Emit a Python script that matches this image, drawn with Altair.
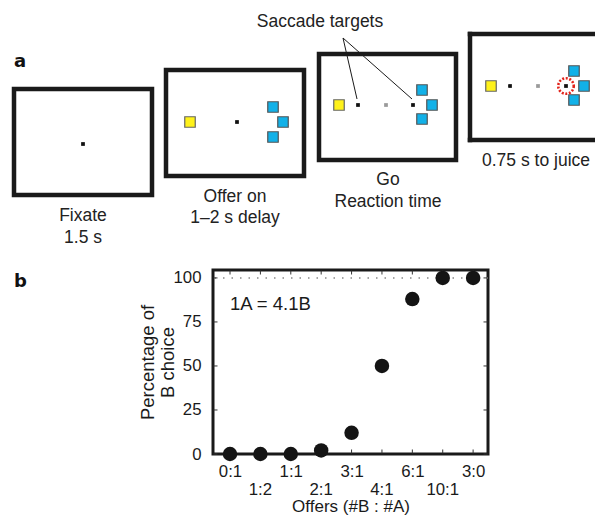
import altair as alt
import pandas as pd
import json

# ---------------- Panel b data ----------------
offers = ["0:1", "1:2", "1:1", "2:1", "3:1", "4:1", "6:1", "10:1", "3:0"]
pct_b = [0, 0, 0, 2, 12, 50, 88, 100, 100]
y_ticks = [0, 25, 50, 75, 100]

# ---------------- Panel a schematic (page-unit layout) ----------------
frame_x1 = [14, 166, 319]
frame_x2 = [152, 304, 456]
frame_y1 = [89, 70, 54]
frame_y2 = [195, 176, 160]
# last frame runs off the right edge: left, top and bottom sides only
edge_x1 = [470, 470, 470]
edge_x2 = [470, 640, 640]
edge_y1 = [34, 34, 140]
edge_y2 = [140, 34, 140]

fix_x = [83, 237, 358, 413, 510, 566]
fix_y = [144, 122, 105, 105, 86, 86]
gray_x = [386, 538]
gray_y = [105, 86]
yellow_x = [190, 339, 491]
yellow_y = [122, 105, 86]
blue_x = [273, 283, 273, 422, 432, 422, 574, 584, 574]
blue_y = [107, 122, 137, 90, 105, 119, 71, 86, 100]
ring_x = [566]
ring_y = [86]
pointer_x = [343, 343]
pointer_y = [38, 38]
pointer_x2 = [357, 412]
pointer_y2 = [99, 99]

caption_text = ["Saccade targets", "Fixate", "1.5 s", "Offer on", "1\u20132 s delay",
                "Go", "Reaction time", "0.75 s to juice"]
caption_x = [320, 83, 83, 235, 235, 388, 388, 536]
caption_y = [22, 216, 238, 197, 218, 180, 202, 161]
panel_text = ["a", "b"]
panel_x = [14, 14]
panel_y = [62, 282]

FONT = "Liberation Sans"
PAD_L, PAD_T = 205, 262
W, H = 275, 184
TOTAL_W, TOTAL_H = 587, 510

df = pd.DataFrame({"i": list(range(len(offers))), "offer": offers, "pct": pct_b})
df["row"] = df["i"] % 2
dft = pd.DataFrame({"v": y_ticks})

xs = alt.Scale(domain=[-0.56, 8.49], nice=False, zero=False)
ys = alt.Scale(domain=[0, 104.5], nice=False, zero=False)

labels_js = json.dumps(offers).replace('"', "'")
label_expr = f"datum.value % 2 == 0 ? {labels_js}[datum.value] : ''"

base = alt.Chart(df)
points = base.mark_circle(size=210, color="#141414", opacity=1).encode(
    x=alt.X("i:Q", scale=xs,
            axis=alt.Axis(values=list(range(len(offers))), labelExpr=label_expr,
                          title="Offers (#B : #A)", ticks=False, domain=False, grid=False,
                          labelPadding=9, titlePadding=19, titleFontSize=17,
                          labelFlush=False, labelOverlap=False)),
    y=alt.Y("pct:Q", scale=ys,
            axis=alt.Axis(values=y_ticks, title=["Percentage of", "B choice"],
                          ticks=False, domain=False, grid=False, labelPadding=12,
                          labelOverlap=False, titlePadding=-4, titleLineHeight=20,
                          titleFontSize=18.5)),
)

odd_labels = base.transform_filter("datum.row == 1").mark_text(
    fontSize=16.8, font=FONT, color="#1a1a1a", baseline="middle", align="center"
).encode(x=alt.X("i:Q", scale=xs), y=alt.value(H + 36), text="offer:N")

# small inward ticks on all four sides of the box
tick_style = dict(color="#333", thickness=1, size=4, opacity=1)
tick_bottom = base.mark_tick(orient="vertical", **tick_style).encode(
    x=alt.X("i:Q", scale=xs), y=alt.value(H - 2.5))
tick_top = base.mark_tick(orient="vertical", **tick_style).encode(
    x=alt.X("i:Q", scale=xs), y=alt.value(2.5))
tick_left = alt.Chart(dft).mark_tick(orient="horizontal", **tick_style).encode(
    y=alt.Y("v:Q", scale=ys), x=alt.value(2.5))
tick_right = alt.Chart(dft).mark_tick(orient="horizontal", **tick_style).encode(
    y=alt.Y("v:Q", scale=ys), x=alt.value(W - 2.5))

dotted = alt.Chart(pd.DataFrame({"y": [100]})).mark_rule(
    color="#888", strokeDash=[1.5, 7], strokeWidth=1.5
).encode(y=alt.Y("y:Q", scale=ys))

eq = alt.Chart(pd.DataFrame({"x": [0.0], "y": [85], "t": ["1A = 4.1B"]})).mark_text(
    align="left", baseline="middle", fontSize=18.5, font=FONT, color="#1a1a1a"
).encode(x=alt.X("x:Q", scale=xs), y=alt.Y("y:Q", scale=ys), text="t:N")

# schematic scales map page units to pixels relative to the plot origin
ox = PAD_L + 8
oy = PAD_T + 8
sx = alt.Scale(domain=[0, 603], range=[-ox, 603 - ox], nice=False, zero=False)
sy = alt.Scale(domain=[0, 527], range=[-oy, 527 - oy], nice=False, zero=False)

def SX(f):
    return alt.X(f, scale=sx, axis=None)

def SY(f):
    return alt.Y(f, scale=sy, axis=None)

frames = alt.Chart(pd.DataFrame({"x1": frame_x1, "x2": frame_x2, "y1": frame_y1, "y2": frame_y2})).mark_rect(
    fillOpacity=0, stroke="#1a1a1a", strokeWidth=4.5
).encode(x=SX("x1:Q"), x2="x2:Q", y=SY("y1:Q"), y2="y2:Q")

edges = alt.Chart(pd.DataFrame({"x1": edge_x1, "x2": edge_x2, "y1": edge_y1, "y2": edge_y2})).mark_rule(
    stroke="#1a1a1a", strokeWidth=4.5, strokeCap="square"
).encode(x=SX("x1:Q"), x2="x2:Q", y=SY("y1:Q"), y2="y2:Q")

pointers = alt.Chart(pd.DataFrame({"x1": pointer_x, "y1": pointer_y, "x2": pointer_x2, "y2": pointer_y2})).mark_rule(
    color="#1a1a1a", strokeWidth=1
).encode(x=SX("x1:Q"), y=SY("y1:Q"), x2="x2:Q", y2="y2:Q")

yellow = alt.Chart(pd.DataFrame({"x": yellow_x, "y": yellow_y})).mark_square(
    size=110, color="#fff21a", opacity=1, stroke="#666", strokeWidth=1.2
).encode(x=SX("x:Q"), y=SY("y:Q"))

blue = alt.Chart(pd.DataFrame({"x": blue_x, "y": blue_y})).mark_square(
    size=110, color="#12b1e8", opacity=1, stroke="#555", strokeWidth=1.2
).encode(x=SX("x:Q"), y=SY("y:Q"))

fix = alt.Chart(pd.DataFrame({"x": fix_x, "y": fix_y})).mark_square(
    size=14, color="#111", opacity=1
).encode(x=SX("x:Q"), y=SY("y:Q"))

gray = alt.Chart(pd.DataFrame({"x": gray_x, "y": gray_y})).mark_square(
    size=14, color="#9a9a9a", opacity=1
).encode(x=SX("x:Q"), y=SY("y:Q"))

ring = alt.Chart(pd.DataFrame({"x": ring_x, "y": ring_y})).mark_point(
    shape="circle", size=240, color="#e2231a", filled=False, strokeWidth=2.6,
    strokeDash=[2, 1.6], opacity=1
).encode(x=SX("x:Q"), y=SY("y:Q"))

captions = alt.Chart(pd.DataFrame({"x": caption_x, "y": caption_y, "t": caption_text})).mark_text(
    fontSize=17.5, font=FONT, color="#222", baseline="middle", align="center"
).encode(x=SX("x:Q"), y=SY("y:Q"), text="t:N")

panels = alt.Chart(pd.DataFrame({"x": panel_x, "y": panel_y, "t": panel_text})).mark_text(
    fontSize=18, font="DejaVu Sans", fontWeight="bold", color="#111", baseline="middle", align="left"
).encode(x=SX("x:Q"), y=SY("y:Q"), text="t:N")

schematic = alt.layer(frames, edges, pointers, yellow, blue, fix, gray, ring, captions, panels)
plot_b = alt.layer(dotted, tick_bottom, tick_top, tick_left, tick_right, points, odd_labels, eq)

chart = alt.layer(plot_b, schematic).resolve_scale(x="independent", y="independent").properties(
    width=W, height=H,
    autosize=alt.AutoSizeParams(type="none"),
    padding={"left": PAD_L, "top": PAD_T, "right": TOTAL_W - PAD_L - W,
             "bottom": TOTAL_H - PAD_T - H},
).configure_view(stroke="#1a1a1a", strokeWidth=3).configure_axis(
    labelFont=FONT, titleFont=FONT, labelFontSize=16.8, titleFontSize=17,
    labelColor="#1a1a1a", titleColor="#1a1a1a", titleFontWeight="normal"
)

chart.save("out.html", embed_options={"renderer": "svg", "actions": False})
